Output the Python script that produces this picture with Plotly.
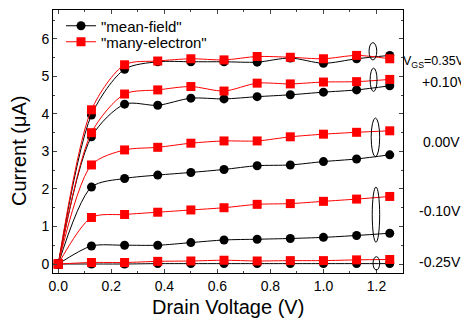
import plotly.graph_objects as go

vd = [0, 0.125, 0.25, 0.375, 0.5, 0.625, 0.75, 0.875, 1.0, 1.125, 1.25]

# mean-field currents (uA)
mf_035 = [0, 3.97, 5.19, 5.39, 5.39, 5.39, 5.38, 5.49, 5.35, 5.47, 5.56]
mf_010 = [0, 3.39, 4.26, 4.23, 4.42, 4.40, 4.46, 4.51, 4.58, 4.64, 4.75]
mf_000 = [0, 2.05, 2.28, 2.37, 2.44, 2.52, 2.62, 2.64, 2.73, 2.80, 2.91]
mf_m010 = [0, 0.48, 0.50, 0.50, 0.57, 0.64, 0.66, 0.68, 0.71, 0.76, 0.82]
mf_m025 = [0, 0.00, 0.00, 0.01, 0.01, 0.01, 0.01, 0.01, 0.01, 0.01, 0.01]

# many-electron currents (uA)
me_035 = [0, 4.11, 5.31, 5.41, 5.47, 5.44, 5.53, 5.51, 5.47, 5.56, 5.47]
me_010 = [0, 3.50, 4.53, 4.64, 4.73, 4.61, 4.82, 4.80, 4.85, 4.86, 4.92]
me_000 = [0, 2.64, 3.04, 3.11, 3.22, 3.28, 3.28, 3.39, 3.46, 3.51, 3.55]
me_m010 = [0, 1.24, 1.32, 1.38, 1.44, 1.50, 1.59, 1.61, 1.67, 1.73, 1.80]
me_m025 = [0, 0.04, 0.04, 0.07, 0.08, 0.10, 0.08, 0.09, 0.09, 0.11, 0.12]

vgs_labels = ["V<sub>GS</sub>=0.35V", "+0.10V", "0.00V", "-0.10V", "-0.25V"]
vgs_label_y = [5.39, 4.86, 3.26, 1.42, 0.06]

# ellipse groupings: (x0, x1, y0, y1)
ellipses = [
    (1.172, 1.201, 5.44, 5.90),
    (1.176, 1.202, 4.60, 5.22),
    (1.180, 1.212, 2.86, 3.89),
    (1.184, 1.212, 0.58, 2.05),
    (1.187, 1.212, -0.16, 0.195),
]

# page body has an 8px default margin: shift the figure frame to compensate
OFF = 8
W, H = 469 - OFF, 324 - OFF
ML, MR, MT, MB = 53 - OFF, 66, 10 - OFF, 51
PW = W - ML - MR
PH = H - MT - MB

def px_to_paper_x(px):
    return (px - OFF - ML) / PW

def px_to_paper_y(py):
    return (H - MB - (py - OFF)) / PH

fig = go.Figure()

mf_all = [mf_035, mf_010, mf_000, mf_m010, mf_m025]
me_all = [me_035, me_010, me_000, me_m010, me_m025]

for i, (mf, me) in enumerate(zip(mf_all, me_all)):
    fig.add_trace(go.Scatter(
        x=vd, y=mf, mode="lines+markers", name='"mean-field"',
        showlegend=(i == 0), legend="legend",
        line=dict(color="black", width=1, shape="spline", smoothing=0.8),
        marker=dict(symbol="circle", size=9, color="black"),
    ))
    fig.add_trace(go.Scatter(
        x=vd, y=me, mode="lines+markers", name='"many-electron"',
        showlegend=(i == 0), legend="legend2",
        line=dict(color="red", width=1, shape="spline", smoothing=0.8),
        marker=dict(symbol="square", size=9, color="red"),
    ))

for (x0, x1, y0, y1) in ellipses:
    fig.add_shape(type="circle", xref="x", yref="y", x0=x0, x1=x1, y0=y0, y1=y1,
                  line=dict(color="black", width=1))

# right-side V_GS labels
fig.add_annotation(text=vgs_labels[0], x=px_to_paper_x(467), xref="paper",
                   y=vgs_label_y[0], yref="y", showarrow=False,
                   xanchor="right", yanchor="middle", font=dict(size=12.5, color="black"))
for lab, ly, cx in zip(vgs_labels[1:], vgs_label_y[1:], [444, 441, 440, 440]):
    fig.add_annotation(text=lab, x=px_to_paper_x(cx), xref="paper", y=ly, yref="y",
                       showarrow=False, xanchor="center", yanchor="middle",
                       font=dict(size=14, color="black"))

# axis titles
fig.add_annotation(text="Drain Voltage (V)", x=px_to_paper_x(228), xref="paper",
                   y=px_to_paper_y(307), yref="paper", showarrow=False,
                   xanchor="center", yanchor="middle", font=dict(size=20, color="black"))
fig.add_annotation(text="Current (μA)", x=px_to_paper_x(19), xref="paper",
                   y=px_to_paper_y(151), yref="paper", showarrow=False, textangle=-90,
                   xanchor="center", yanchor="middle", font=dict(size=20, color="black"))

font_family = "Liberation Sans, Arial, sans-serif"
legend_common = dict(xanchor="left", yanchor="middle", bgcolor="rgba(0,0,0,0)",
                     font=dict(size=15), itemwidth=30)
fig.update_layout(
    width=W, height=H,
    margin=dict(l=ML, r=MR, t=MT, b=MB, autoexpand=False),
    paper_bgcolor="white", plot_bgcolor="white",
    font=dict(family=font_family, color="black", size=14),
    showlegend=True,
    legend=dict(x=px_to_paper_x(61), y=px_to_paper_y(26), **legend_common),
    legend2=dict(x=px_to_paper_x(61), y=px_to_paper_y(42), **legend_common),
)
fig.update_xaxes(
    range=[-0.02, 1.3], tickvals=[0, 0.2, 0.4, 0.6, 0.8, 1.0, 1.2],
    tickformat=".1f", ticks="inside", ticklen=4, mirror="ticks",
    showline=True, linecolor="black", linewidth=1, showgrid=False, zeroline=False,
    minor=dict(ticks="inside", ticklen=2, dtick=0.1, showgrid=False),
    automargin=False, tickfont=dict(size=14),
)
fig.update_yaxes(
    range=[-0.24, 6.77], tickvals=[0, 1, 2, 3, 4, 5, 6],
    ticks="inside", ticklen=4, mirror="ticks",
    showline=True, linecolor="black", linewidth=1, showgrid=False, zeroline=False,
    minor=dict(ticks="inside", ticklen=2, dtick=0.5, showgrid=False),
    automargin=False, tickfont=dict(size=14),
)

fig.write_html("out.html")
